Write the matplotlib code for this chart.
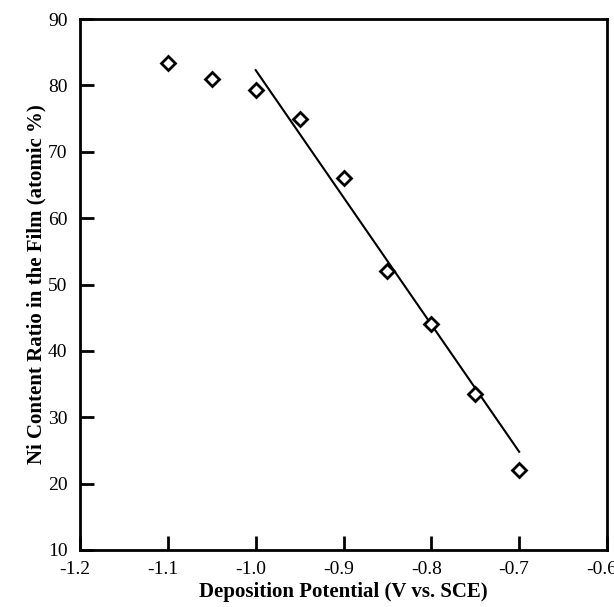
import matplotlib
matplotlib.use("Agg")
import matplotlib.pyplot as plt
import matplotlib.transforms as mtransforms
from matplotlib.ticker import FormatStrFormatter

plt.rcParams["font.family"] = ["Liberation Serif", "DejaVu Serif"]
plt.rcParams["axes.unicode_minus"] = False

# measured composition vs deposition potential
potential = [-1.10, -1.05, -1.00, -0.95, -0.90, -0.85, -0.80, -0.75, -0.70]
ni_content = [83.3, 81.0, 79.3, 75.0, 66.0, 52.0, 44.0, 33.5, 22.0]

# linear fit drawn over the -1.0 .. -0.7 V range
fit_x = [-1.00, -0.70]
fit_y = [82.3, 24.8]

fig = plt.figure(figsize=(6.14, 6.07), dpi=100)
ax = fig.add_axes([80 / 614, 1 - 550 / 607, 527 / 614, 531 / 607])

ax.plot(fit_x, fit_y, color="black", lw=1.5)
ax.plot(potential, ni_content, ls="none", marker="D", ms=7, mfc="white",
        mec="black", mew=2.0)

ax.set_xlim(-1.2, -0.6)
ax.set_ylim(10, 90)
ax.set_xticks([-1.2, -1.1, -1.0, -0.9, -0.8, -0.7, -0.6])
ax.set_yticks(range(10, 91, 10))
ax.xaxis.set_major_formatter(FormatStrFormatter("%.1f"))
ax.tick_params(direction="in", length=10, width=2, labelsize=14, pad=8)
ax.tick_params(axis="y", pad=9)
for s in ax.spines.values():
    s.set_linewidth(2)

# the original centres the digits on the tick, so the hyphen hangs left
shift = mtransforms.ScaledTranslation(-5 / 100, 0, fig.dpi_scale_trans)
for lbl in ax.get_xticklabels():
    lbl.set_transform(lbl.get_transform() + shift)

ax.set_xlabel("Deposition Potential (V vs. SCE)", fontsize=15,
              fontweight="bold", labelpad=3)
ax.set_ylabel("Ni Content Ratio in the Film (atomic %)", fontsize=15,
              fontweight="bold", labelpad=1)

fig.savefig("out.png", dpi=100)
